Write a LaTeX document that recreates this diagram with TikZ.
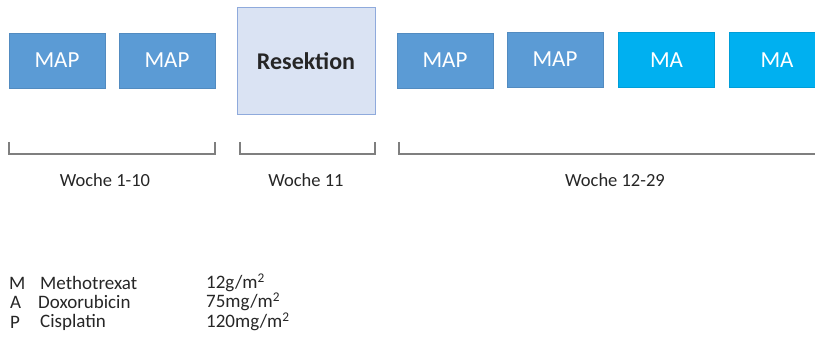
\documentclass[tikz,border=0pt]{standalone}
\usepackage{fontspec}
\setmainfont{Carlito}
\usepackage{tikz}
\usetikzlibrary{positioning}

\definecolor{mapblue}{HTML}{5B9BD5}
\definecolor{mablue}{HTML}{00B0F0}
\definecolor{resfill}{HTML}{DAE3F3}
\definecolor{resdraw}{HTML}{8FAADC}
\definecolor{brgray}{HTML}{7F7F7F}
\definecolor{txtgray}{HTML}{262626}

\begin{document}
\begin{tikzpicture}[x=1pt,y=-1pt,
	cyc/.style={minimum width=96pt, minimum height=55pt, inner sep=0pt, text=white, font=\fontsize{23}{27}\selectfont},
	mapbox/.style={cyc, fill=mapblue, draw=mapblue!90!black, line width=0.4pt},
	mabox/.style={cyc, fill=mablue, draw=mablue!90!black, line width=0.4pt},
	resbox/.style={minimum width=138pt, minimum height=107pt, inner sep=0pt, fill=resfill, draw=resdraw, line width=1pt, font=\fontsize{24}{28}\bfseries\selectfont, text=txtgray},
	brace/.style={draw=brgray, line width=1.3pt},
	wlabel/.style={font=\fontsize{18.5}{22}\selectfont, text=txtgray},
	leg/.style={font=\fontsize{19}{22}\selectfont, text=txtgray, anchor=west, inner sep=0pt}]
		\clip (0,0) rectangle (815,342);
		\useasboundingbox (0,0) rectangle (815,342);
		\node[mapbox] (map1) at (57,60.5) {MAP};
		\node[mapbox] (map2) at (167,60.5) {MAP};
		\node[resbox] (res) at (306,61.5) {Resektion};
		\node[mapbox] (map3) at (445,60.5) {MAP};
		\node[mapbox] (map4) at (555,59.5) {MAP};
		\node[mabox] (ma1) at (666.5,60) {MA};
		\node[mabox] (ma2) at (777,60) {MA};
		\draw[brace] (9,142) -- (9,154) -- (215,154) -- (215,142);
		\draw[brace] (240,142) -- (240,154) -- (375,154) -- (375,142);
		\draw[brace] (399,142) -- (399,154) -- (830,154);
		\node[wlabel] (w1) at (105,180) {Woche 1-10};
		\node[wlabel] (w2) at (306,180) {Woche 11};
		\node[wlabel] (w3) at (615,180) {Woche 12-29};
		\node[leg] (lm) at (9,283) {M};
		\node[leg] (lmn) at (40,283) {Methotrexat};
		\node[leg] (lmd) at (206,283) {12g/m\textsuperscript{2}};
		\node[leg] (la) at (10,302) {A};
		\node[leg] (lan) at (38,302) {Doxorubicin};
		\node[leg] (lad) at (206,302) {75mg/m\textsuperscript{2}};
		\node[leg] (lp) at (10,322) {P};
		\node[leg] (lpn) at (40,322) {Cisplatin};
		\node[leg] (lpd) at (206,322) {120mg/m\textsuperscript{2}};
\end{tikzpicture}
\end{document}
